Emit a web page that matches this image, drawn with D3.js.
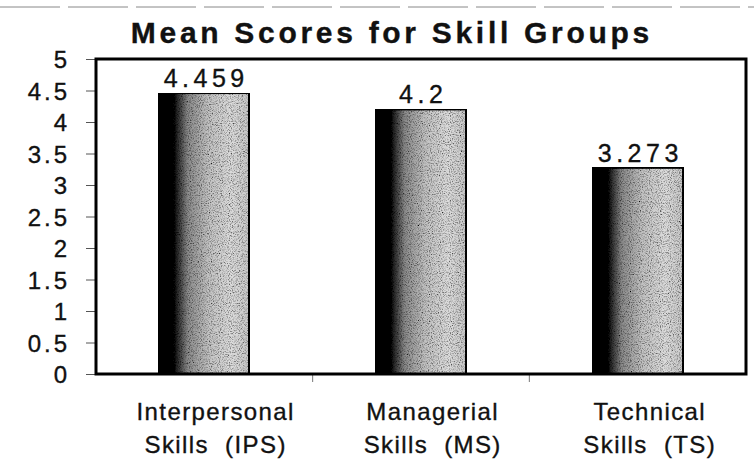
<!DOCTYPE html>
<html>
<head>
<meta charset="utf-8">
<script src="https://cdn.jsdelivr.net/npm/d3@7"></script>
<style>
  body { margin: 0; background: #fff; }
  svg text { font-family: "Liberation Sans", Arial, sans-serif; fill: #111; stroke: #111; stroke-width: 0.35px; }
</style>
</head>
<body>
<div id="chart"></div>
<script>
// Data
var categories = ["Interpersonal|Skills  (IPS)", "Managerial|Skills  (MS)", "Technical|Skills  (TS)"];
var meanScores = [4.459, 4.2, 3.273];
var valueLabels = ["4.459", "4.2", "3.273"];
var yTicks = [0, 0.5, 1, 1.5, 2, 2.5, 3, 3.5, 4, 4.5, 5];

var svgWidth = 754;
var svgHeight = 476;

// plot frame
var margin = { top: 59, right: 8, bottom: 102, left: 96 };
var chartWidth = svgWidth - margin.left - margin.right;
var chartHeight = svgHeight - margin.top - margin.bottom;

var SVG = d3.select("#chart").append("svg")
    .attr("width", svgWidth)
    .attr("height", svgHeight);

// gradient + speckle for the bars
var defs = SVG.append("defs");
var grad = defs.append("linearGradient").attr("id", "barGrad")
    .attr("x1", "0%").attr("x2", "100%").attr("y1", "0%").attr("y2", "0%");
grad.append("stop").attr("offset", "0%").attr("stop-color", "#000");
grad.append("stop").attr("offset", "16%").attr("stop-color", "#050505");
grad.append("stop").attr("offset", "32%").attr("stop-color", "#8a8a8a");
grad.append("stop").attr("offset", "55%").attr("stop-color", "#c2c2c2");
grad.append("stop").attr("offset", "80%").attr("stop-color", "#dcdcdc");
grad.append("stop").attr("offset", "100%").attr("stop-color", "#c8c8c8");

var speckle = defs.append("filter").attr("id", "speckle")
    .attr("x", 0).attr("y", 0).attr("width", 1).attr("height", 1);
speckle.append("feTurbulence").attr("type", "fractalNoise")
    .attr("baseFrequency", 0.9).attr("numOctaves", 2).attr("seed", 3).attr("result", "noise");
speckle.append("feColorMatrix").attr("in", "noise").attr("type", "matrix")
    .attr("values", "0 0 0 0 0  0 0 0 0 0  0 0 0 0 0  0 0 0 -2.2 1.25")
    .attr("result", "dots");
speckle.append("feComposite").attr("in", "dots").attr("in2", "SourceGraphic").attr("operator", "in").attr("result", "dotsIn");
speckle.append("feMerge").selectAll("feMergeNode")
    .data(["SourceGraphic", "dotsIn"]).enter().append("feMergeNode").attr("in", d => d);

// faint scan line at the very top
SVG.append("line")
    .attr("x1", 0).attr("x2", svgWidth).attr("y1", 7).attr("y2", 7)
    .attr("stroke", "#888").attr("stroke-width", 1).attr("stroke-dasharray", "60,8");

// title
var titleSpacing = 3.7;
SVG.append("text")
    .attr("x", 390 + titleSpacing / 2).attr("y", 43)
    .attr("text-anchor", "middle")
    .style("font-size", "30px")
    .style("font-weight", "bold")
    .style("letter-spacing", titleSpacing + "px")
    .text("Mean Scores for Skill Groups");

var chartGrp = SVG.append("g")
    .attr("transform", `translate(${margin.left}, ${margin.top})`);

// scales
var xScale = d3.scaleBand().domain(categories).range([0, chartWidth]).paddingInner(0.585).paddingOuter(0.29);
var xBounds = d3.scaleBand().domain(categories).range([0, chartWidth]);
var yScale = d3.scaleLinear().domain([0, 5]).range([chartHeight, 0]);

// y axis
var tickSpacing = 3;
var leftAxis = d3.axisLeft(yScale).tickValues(yTicks).tickSize(10).tickPadding(19 - tickSpacing)
    .tickFormat(d => String(d));
var yAxis = chartGrp.append("g").call(leftAxis);
yAxis.select(".domain").remove();
yAxis.selectAll(".tick line").attr("stroke", "#555").attr("stroke-width", 1);
yAxis.selectAll(".tick text")
    .style("font-size", "24px")
    .style("letter-spacing", tickSpacing + "px")
    .attr("dy", "0.36em");

// category boundary ticks on the bottom
chartGrp.append("g").selectAll("line")
    .data(categories.slice(1)).enter().append("line")
    .attr("x1", d => xBounds(d)).attr("x2", d => xBounds(d))
    .attr("y1", chartHeight).attr("y2", chartHeight + 8)
    .attr("stroke", "#777").attr("stroke-width", 1);

// bars
chartGrp.selectAll(".bar").data(meanScores).enter().append("rect")
    .attr("class", "bar")
    .attr("x", (d, i) => xScale(categories[i]))
    .attr("y", d => yScale(d))
    .attr("width", xScale.bandwidth())
    .attr("height", d => chartHeight - yScale(d))
    .attr("fill", "url(#barGrad)")
    .attr("filter", "url(#speckle)")
    .attr("stroke", "#000")
    .attr("stroke-width", 2);

// value labels
var valSpacing = 4.5;
chartGrp.selectAll(".val").data(meanScores).enter().append("text")
    .attr("class", "val")
    .attr("x", (d, i) => xScale(categories[i]) + xScale.bandwidth() / 2 + valSpacing / 2)
    .attr("y", d => yScale(d) - 6)
    .attr("text-anchor", "middle")
    .style("font-size", "25px")
    .style("letter-spacing", valSpacing + "px")
    .text((d, i) => valueLabels[i]);

// plot frame
chartGrp.append("rect")
    .attr("x", 0).attr("y", 0)
    .attr("width", chartWidth).attr("height", chartHeight)
    .attr("fill", "none").attr("stroke", "#000").attr("stroke-width", 3);

// category labels (two lines), sitting slightly right of the bar centres
var labSpacing = 1.4;
var labShift = 11;
var xLabels = chartGrp.append("g").selectAll("text")
    .data(categories).enter().append("text")
    .attr("text-anchor", "middle")
    .attr("transform", d => `translate(${xScale(d) + xScale.bandwidth() / 2 + labShift + labSpacing / 2}, ${chartHeight + 46})`)
    .style("font-size", "24px")
    .style("letter-spacing", labSpacing + "px")
    .style("white-space", "pre");
xLabels.each(function(d) {
    var parts = d.split("|");
    var t = d3.select(this);
    t.append("tspan").attr("x", 0).attr("y", 0).text(parts[0]);
    t.append("tspan").attr("x", 0).attr("y", 33).text(parts[1]);
});
</script>
</body>
</html>
